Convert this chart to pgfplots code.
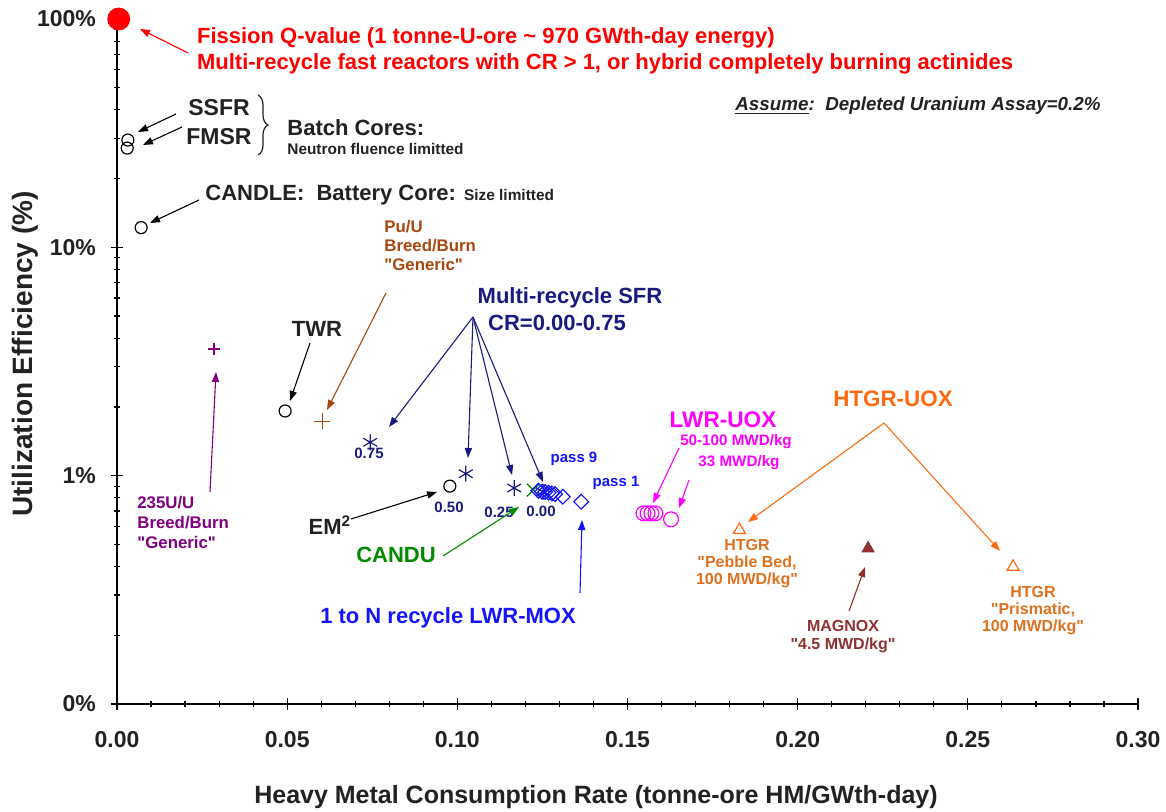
\documentclass[border=0pt]{standalone}
\usepackage{fontspec}
\setmainfont{Liberation Sans}[Ligatures=TeXOff]
\usepackage{pgfplots}
\pgfplotsset{compat=1.18}
\usetikzlibrary{arrows.meta,decorations.pathreplacing}
\definecolor{dkgray}{HTML}{222222}
\definecolor{puRed}{HTML}{FF0000}
\definecolor{brownPu}{HTML}{A8470F}
\definecolor{purp}{HTML}{800080}
\definecolor{navySFR}{HTML}{1A1A80}
\definecolor{candu}{HTML}{008A00}
\definecolor{mox}{HTML}{1414FF}
\definecolor{mag}{HTML}{FF00FF}
\definecolor{htgr}{HTML}{FF6A10}
\definecolor{htgrtxt}{HTML}{E0701E}
\definecolor{magnox}{HTML}{903030}
\newcommand{\fs}[1]{\bfseries\fontsize{#1}{#1}\selectfont}
\newcommand{\dq}{\symbol{34}}
\begin{document}
\begin{tikzpicture}
\useasboundingbox (0,0) rectangle (583pt,406pt);
\begin{axis}[at={(58.5pt,54pt)}, anchor=south west, scale only axis,
  width=510.5pt, height=342.5pt,
  xmin=0, xmax=0.30, ymode=log, ymin=0.1, ymax=100,
  axis x line=bottom, axis y line=left,
  axis line style={-, line width=0.8pt, black},
  xtick={0,0.05,0.10,0.15,0.20,0.25,0.30}, minor x tick num=4,
  ytick={0.1,1,10,100}, yticklabels={0\%,1\%,10\%,100\%},
  /pgf/number format/fixed, /pgf/number format/fixed zerofill,
  /pgf/number format/precision=2, /pgf/number format/assume math mode=true,
  xticklabel style={yshift=-7pt},
  yticklabel style={xshift=-4pt},
  tick label style={font=\fs{11.5}, text=dkgray},
  tick align=center, major tick length=6pt, minor tick length=3pt,
  tick style={black, line width=0.6pt},
  clip=false]
% fission Q-value
\addplot[only marks, mark=*, mark size=5.5pt, draw=puRed, fill=puRed] coordinates {(0.0005,100)};
% batch cores / candle / TWR / EM2
\addplot[only marks, mark=o, mark size=3pt, black, mark options={line width=0.6pt}] coordinates {
 (0.0032,29.5) (0.0030,27.2) (0.0071,12.2) (0.0494,1.92) (0.0978,0.90)};
% 235U/U
\addplot[only marks, mark=+, mark size=3pt, purp, mark options={line width=0.6pt}] coordinates {(0.0285,3.59)};
% Pu/U
\addplot[only marks, mark=+, mark size=4pt, brownPu, mark options={line width=0.7pt}] coordinates {(0.0603,1.73)};
% CANDU
\addplot[only marks, mark=x, mark size=4.5pt, candu, mark options={line width=0.6pt}] coordinates {(0.1223,0.865)};
% multi-recycle SFR
\addplot[only marks, mark=asterisk, mark size=4pt, navySFR, mark options={line width=0.6pt}] coordinates {
 (0.0744,1.40) (0.1025,1.02) (0.1167,0.883) (0.1252,0.85)};
% LWR-MOX passes
\addplot[only marks, mark=square, mark size=2.6pt, mox, mark options={rotate=45, line width=0.6pt}] coordinates {
 (0.1238,0.859) (0.1249,0.851) (0.1258,0.848) (0.1268,0.842) (0.1278,0.836) (0.1287,0.830) (0.1310,0.809) (0.1364,0.769)};
% LWR-UOX
\addplot[only marks, mark=o, mark size=3.7pt, mag, mark options={line width=0.6pt}] coordinates {
 (0.1547,0.684) (0.1559,0.684) (0.1570,0.684) (0.1582,0.684) (0.1628,0.644)};
% HTGR
\addplot[only marks, mark=triangle, mark size=3.5pt, htgr, mark options={line width=0.6pt}] coordinates {
 (0.1829,0.578) (0.2633,0.399)};
% MAGNOX
\addplot[only marks, mark=triangle*, mark size=3.5pt, magnox] coordinates {(0.2207,0.480)};
\end{axis}
\begin{scope}[x=0.5pt, y=-0.5pt, yshift=406pt,
  arr/.style={-{Triangle[length=5pt,width=3.6pt]}, line width=0.55pt}]
% axis labels
\node[font=\fs{12.5}, text=dkgray] at (596,797) {Heavy Metal Consumption Rate (tonne-ore HM/GWth-day)};
\node[font=\fs{14}, text=dkgray, rotate=90] at (25,354) {Utilization Efficiency (\%)};
% fission
\node[font=\fs{11}, text=puRed, anchor=west, align=left] at (190,51) {Fission Q-value (1 tonne-U-ore \textasciitilde\ 970 GWth-day energy)\\[2pt]Multi-recycle fast reactors with CR > 1, or hybrid completely burning actinides};
\draw[arr, puRed] (188,53) -- (140,29);
% SSFR FMSR
\node[font=\fs{11.5}, text=dkgray] at (219,108) {SSFR};
\node[font=\fs{11.5}, text=dkgray] at (219,137) {FMSR};
\draw[arr] (176,114) -- (138,132);
\draw[arr] (182,127) -- (143,145);
\draw[dkgray, line width=0.6pt, decorate, decoration={brace, amplitude=5pt}] (258,95) -- (258,155);
\node[font=\fs{11}, text=dkgray, anchor=west, inner sep=0pt] at (287,128) {Batch Cores:};
\node[font=\fs{7.7}, text=dkgray, anchor=west, inner sep=0pt] at (287,149) {Neutron fluence limitted};
% CANDLE
\node[font=\fs{11}, text=dkgray, anchor=west, inner sep=0pt] at (205,195) {CANDLE:\ \ Battery Core: {\fs{7.7}Size limitted}};
\draw[arr] (199,200) -- (150,223);
% Pu/U
\node[font=\fs{8.4}, text=brownPu, anchor=west, align=left, inner sep=0pt] at (384,246) {Pu/U\\[1.1pt]Breed/Burn\\[1.1pt]\dq Generic\dq};
\draw[arr, brownPu] (386,293) -- (327,410);
% TWR
\node[font=\fs{11}, text=dkgray] at (317,329) {TWR};
\draw[arr] (310,343) -- (290,401);
% 235U/U
\node[font=\fs{8.4}, text=purp, anchor=west, align=left, inner sep=0pt] at (137,523) {235U/U\\[1.6pt]Breed/Burn\\[1.6pt]\dq Generic\dq};
\draw[arr, purp] (210,492) -- (216,372);
% multi-recycle SFR
\node[font=\fs{11}, text=navySFR] at (570,298) {Multi-recycle SFR};
\node[font=\fs{11}, text=navySFR] at (557,323) {CR=0.00-0.75};
\draw[arr, navySFR] (473,317) -- (389,427);
\draw[arr, navySFR] (473,317) -- (468,458);
\draw[arr, navySFR] (473,317) -- (512,475);
\draw[arr, navySFR] (473,317) -- (543,482);
\node[font=\fs{7.5}, text=navySFR] at (369,453) {0.75};
\node[font=\fs{7.5}, text=navySFR] at (449,507) {0.50};
\node[font=\fs{7.5}, text=navySFR] at (499,512) {0.25};
\node[font=\fs{7.5}, text=navySFR] at (541,511) {0.00};
% EM2
\node[font=\fs{11}, text=dkgray] at (330,525) {EM\textsuperscript{2}};
\draw[arr] (351,519) -- (437,492);
% CANDU
\node[font=\fs{11}, text=candu] at (396,555) {CANDU};
\draw[arr, candu] (443,556) -- (519,507);
% MOX
\node[font=\fs{11}, text=mox] at (448,618) {1 to N recycle LWR-MOX};
\draw[arr, mox] (580,593) -- (582,520);
\node[font=\fs{7.5}, text=mox] at (574,459) {pass 9};
\node[font=\fs{7.5}, text=mox] at (616,483) {pass 1};
% LWR-UOX
\node[font=\fs{11.3}, text=mag] at (723,420) {LWR-UOX};
\node[font=\fs{7.6}, text=mag] at (736,442) {50-100 MWD/kg};
\node[font=\fs{7.6}, text=mag] at (739,463) {33 MWD/kg};
\draw[arr, mag] (679,448) -- (653,503);
\draw[arr, mag] (689,480) -- (679,508);
% HTGR-UOX
\node[font=\fs{11.2}, text=htgr] at (893,399) {HTGR-UOX};
\draw[arr, htgr] (884,423) -- (748,522);
\draw[arr, htgr] (884,423) -- (1000,551);
\node[font=\fs{8}, text=htgrtxt, align=center] at (747,564) {HTGR\\[0.5pt]\dq Pebble Bed,\\[0.5pt]100 MWD/kg\dq};
\node[font=\fs{8}, text=htgrtxt, align=center] at (1033,611) {HTGR\\[0.5pt]\dq Prismatic,\\[0.5pt]100 MWD/kg\dq};
% MAGNOX
\node[font=\fs{8}, text=magnox, align=center] at (843,637) {MAGNOX\\[1pt]\dq 4.5 MWD/kg\dq};
\draw[arr, magnox] (849,611) -- (865,567);
% assume
\node[font=\fs{9.4}\itshape, text=dkgray] at (918,106) {\underline{Assume}:\ \ Depleted Uranium Assay=0.2\%};
\end{scope}
\end{tikzpicture}
\end{document}
